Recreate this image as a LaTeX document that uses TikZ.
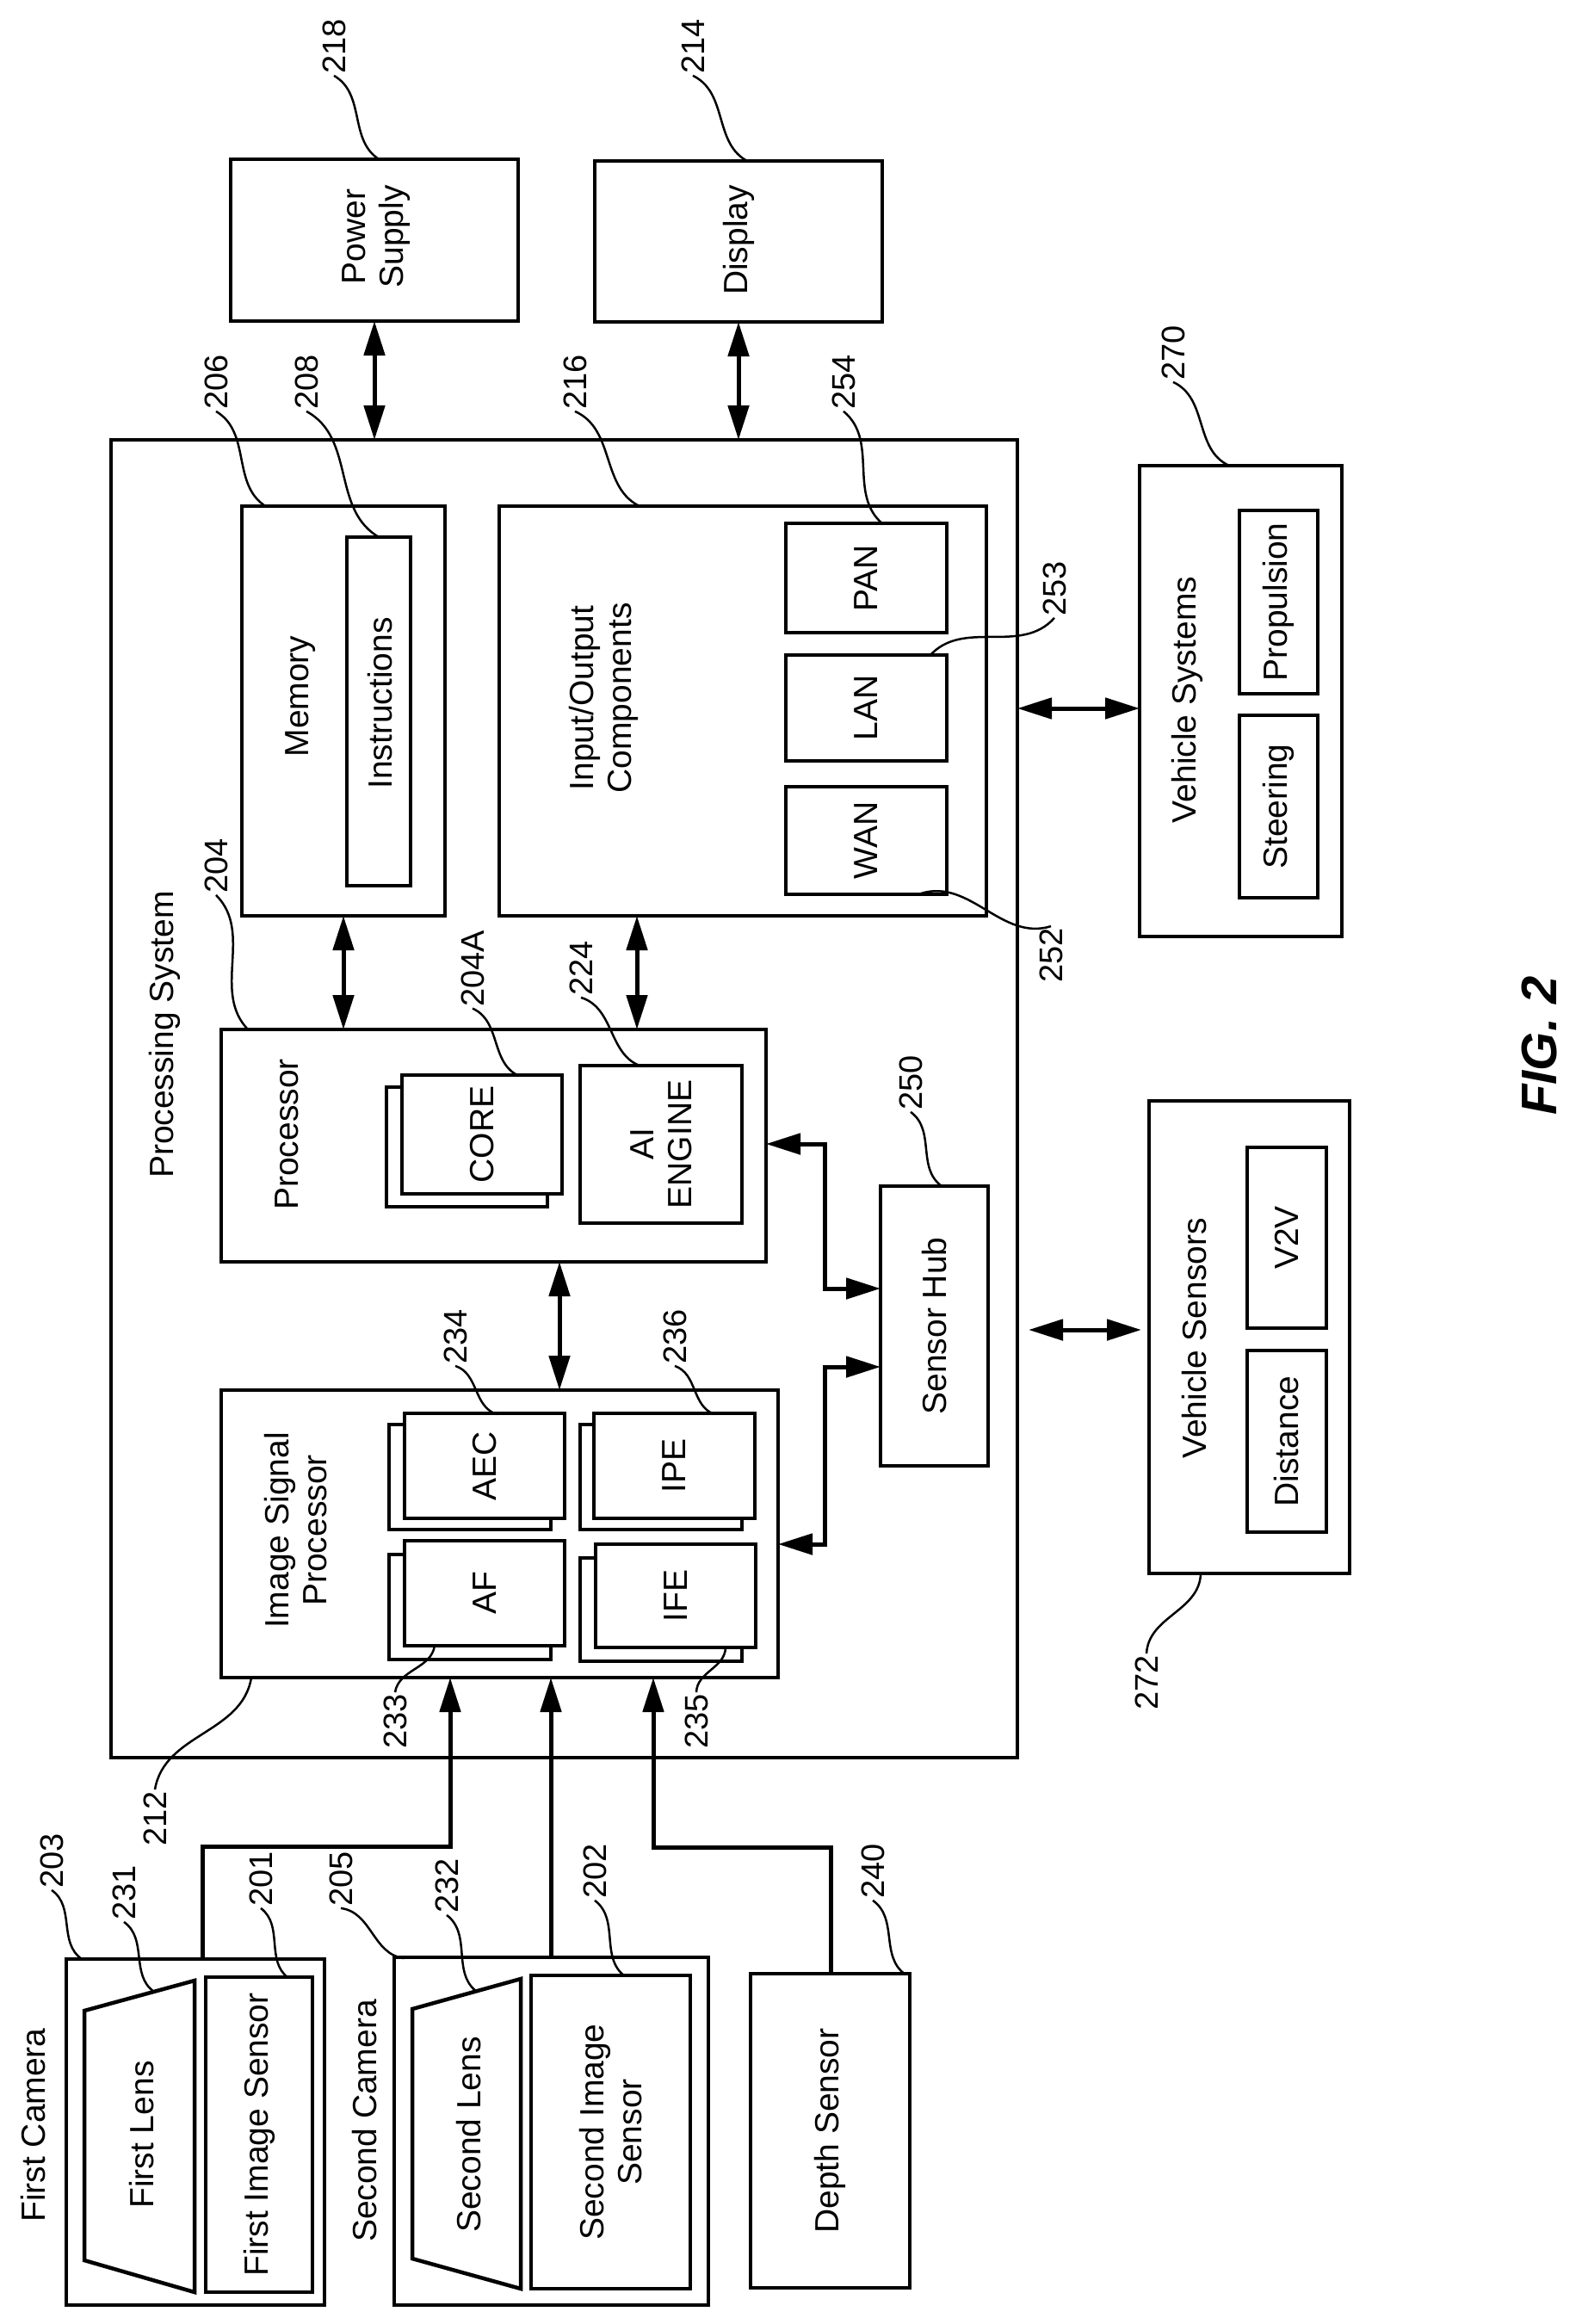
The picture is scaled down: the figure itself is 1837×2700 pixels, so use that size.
\documentclass[tikz,border=0pt]{standalone}
\usepackage{fontspec}
\setmainfont{Liberation Sans}
\usetikzlibrary{arrows.meta,calc}
\begin{document}
\begin{tikzpicture}[x=1pt,y=-1pt,
  box/.style={draw,line width=4.5pt,fill=white,inner sep=0pt,outer sep=0pt},
  txt/.style={rotate=90,font=\fontsize{39}{44}\selectfont,align=center,inner sep=0pt},
  num/.style={rotate=90,font=\fontsize{38}{40}\selectfont,inner sep=2pt},
  lead/.style={line width=2.5pt},
  arr/.style={line width=5pt,-{Triangle[length=40pt,width=24pt]}},
  dbl/.style={line width=5pt,{Triangle[length=40pt,width=24pt]}-{Triangle[length=40pt,width=24pt]}}]
\newcommand\bx[5]{\node[box,minimum width={(#4-#2)*1pt},minimum height={(#5-#3)*1pt}] (#1) at ({(#2+#4)/2},{(#3+#5)/2}) {};}
\newcommand\ld[2]{\draw[lead] (#1) .. controls ($(#1)!0.33!(#2)!0.3!90:(#2)$) and ($(#2)!0.33!(#1)!0.3!90:(#1)$) .. (#2);}
\useasboundingbox (0,0) rectangle (1837,2700);
% boxes
\bx{outer}{129}{511}{1182}{2042}
\bx{psu}{268}{185}{602}{373}
\bx{disp}{691}{187}{1025}{374}
\bx{mem}{281}{588}{517}{1064}
\bx{instr}{403}{624}{477}{1029}
\bx{io}{580}{588}{1146}{1064}
\bx{pan}{913}{608}{1100}{735}
\bx{lan}{913}{761}{1100}{884}
\bx{wan}{913}{914}{1100}{1039}
\bx{proc}{257}{1196}{890}{1466}
\bx{coreb}{449}{1263}{636}{1402}
\bx{core}{467}{1249}{653}{1387}
\bx{ai}{674}{1238}{862}{1421}
\bx{isp}{257}{1615}{904}{1949}
\bx{aecb}{452}{1655}{640}{1777}
\bx{aec}{470}{1642}{656}{1764}
\bx{afb}{452}{1806}{640}{1928}
\bx{af}{470}{1790}{656}{1912}
\bx{ipeb}{674}{1655}{862}{1777}
\bx{ipe}{690}{1642}{877}{1764}
\bx{ifeb}{674}{1810}{862}{1930}
\bx{ife}{692}{1794}{878}{1914}
\bx{hub}{1023}{1378}{1148}{1703}
\bx{vsys}{1324}{541}{1559}{1088}
\bx{prop}{1440}{593}{1531}{806}
\bx{steer}{1440}{831}{1531}{1043}
\bx{vsen}{1335}{1279}{1568}{1828}
\bx{v2v}{1449}{1333}{1541}{1543}
\bx{dist}{1449}{1569}{1541}{1780}
\bx{cam1}{77}{2276}{377}{2678}
\bx{sens1}{239}{2297}{363}{2663}
\bx{cam2}{458}{2274}{823}{2678}
\bx{sens2}{617}{2295}{802}{2659}
\bx{depth}{872}{2293}{1057}{2658}
\draw[box] (98,2336) -- (226,2301) -- (226,2663) -- (98,2626) -- cycle;
\draw[box] (479,2334) -- (605,2299) -- (605,2659) -- (479,2624) -- cycle;
% texts
\node[txt] (tps) at (191,1202) {Processing System};
\node[txt] (tpsu) at (437,275) {Power\\Supply};
\node[txt] (tdisp) at (858,279) {Display};
\node[txt] (tmem) at (349,809) {Memory};
\node[txt] (tinstr) at (442,817) {Instructions};
\node[txt] (tio) at (701,811) {Input/Output\\Components};
\node[txt] (tpan) at (pan) {PAN};
\node[txt] (tlan) at (lan) {LAN};
\node[txt] (twan) at (wan) {WAN};
\node[txt] (tproc) at (333,1318) {Processor};
\node[txt] (tcore) at (core) {CORE};
\node[txt] (tai) at (ai) {AI\\ENGINE};
\node[txt] (tisp) at (344,1778) {Image Signal\\Processor};
\node[txt] (taec) at (aec) {AEC};
\node[txt] (taf) at (af) {AF};
\node[txt] (tipe) at (ipe) {IPE};
\node[txt] (tife) at (ife) {IFE};
\node[txt] (thub) at (hub) {Sensor Hub};
\node[txt] (tvsys) at (1379,813) {Vehicle Systems};
\node[txt] (tprop) at (prop) {Propulsion};
\node[txt] (tsteer) at (steer) {Steering};
\node[txt] (tvsen) at (1388,1555) {Vehicle Sensors};
\node[txt] (tv2v) at (v2v) {V2V};
\node[txt] (tdist) at (dist) {Distance};
\node[txt] (tcam1) at (39,2469) {First Camera};
\node[txt] (tlens1) at (165,2480) {First Lens};
\node[txt] (tsens1) at (sens1) {First Image Sensor};
\node[txt] (tcam2) at (424,2464) {Second Camera};
\node[txt] (tlens2) at (545,2480) {Second Lens};
\node[txt] (tsens2) at (sens2) {Second Image\\Sensor};
\node[txt] (tdepth) at (depth) {Depth Sensor};
\node[rotate=90,font=\fontsize{58}{60}\selectfont\bfseries\itshape] (fig) at (1788,1215) {FIG. 2};
% arrows
\coordinate (x740) at (740,0);
\coordinate (x650) at (650,0);
\draw[dbl] (psu.south) -- (psu.south |- outer.north);
\draw[dbl] (disp.south) -- (disp.south |- outer.north);
\draw[dbl] (mem.south) -- (mem.south |- proc.north);
\draw[dbl] (io.south -| x740) -- (proc.north -| x740);
\draw[dbl] (proc.south -| x650) -- (isp.north -| x650);
\draw[dbl] (outer.east |- 0,823) -- (vsys.west |- 0,823);
\draw[dbl] ([xshift=13pt]outer.east |- 0,1545) -- ([xshift=-9pt]vsen.west |- 0,1545);
\draw[dbl] (proc.east |- 0,1329) -- (958,1329) |- (hub.west |- 0,1497);
\draw[dbl] (isp.east |- 0,1794) -- (958,1794) |- (hub.west |- 0,1588);
\draw[arr] (cam1.north -| 235,0) |- (523,2145) -- (isp.south -| 523,0);
\draw[arr] (cam2.north -| 640,0) -- (isp.south -| 640,0);
\draw[arr] (depth.north -| 965,0) |- (759,2146) -- (isp.south -| 759,0);
% reference numbers
\node[num] (n218) at (388,54) {218};
\node[num] (n214) at (805,54) {214};
\node[num] (n206) at (251,444) {206};
\node[num] (n208) at (356,444) {208};
\node[num] (n216) at (668,444) {216};
\node[num] (n254) at (980,444) {254};
\node[num] (n204) at (251,1006) {204};
\node[num] (n204a) at (549,1125) {204A};
\node[num] (n224) at (675,1125) {224};
\node[num] (n234) at (529,1553) {234};
\node[num] (n236) at (784,1553) {236};
\node[num] (n233) at (459,2000) {233};
\node[num] (n235) at (809,2000) {235};
\node[num] (n212) at (180,2113) {212};
\node[num] (n203) at (60,2162) {203};
\node[num] (n231) at (144,2199) {231};
\node[num] (n201) at (303,2183) {201};
\node[num] (n205) at (396,2183) {205};
\node[num] (n232) at (519,2191) {232};
\node[num] (n202) at (691,2174) {202};
\node[num] (n240) at (1014,2174) {240};
\node[num] (n253) at (1225,684) {253};
\node[num] (n252) at (1221,1110) {252};
\node[num] (n250) at (1058,1258) {250};
\node[num] (n270) at (1363,410) {270};
\node[num] (n272) at (1332,1955) {272};
% leader ends
\coordinate (e218) at (442,186);
\coordinate (e214) at (870,188);
\coordinate (e206) at (310,589);
\coordinate (e208) at (442,625);
\coordinate (e216) at (745,589);
\coordinate (e254) at (1026,609);
\coordinate (e204) at (289,1197);
\coordinate (e204a) at (603,1250);
\coordinate (e224) at (746,1239);
\coordinate (e234) at (577,1643);
\coordinate (e236) at (830,1643);
\coordinate (e233) at (505,1912);
\coordinate (e235) at (843,1914);
\coordinate (e212) at (292,1949);
\coordinate (e203) at (95,2276);
\coordinate (e231) at (179,2314);
\coordinate (e201) at (335,2298);
\coordinate (e205) at (469,2275);
\coordinate (e232) at (554,2314);
\coordinate (e202) at (726,2296);
\coordinate (e240) at (1052,2294);
\coordinate (e253) at (1080,762);
\coordinate (e252) at (1070,1038);
\coordinate (e250) at (1094,1378);
\coordinate (e270) at (1428,541);
\coordinate (e272) at (1395,1829);
\ld{n218.west}{e218}
\ld{n214.west}{e214}
\ld{n206.west}{e206}
\ld{n208.west}{e208}
\ld{n216.west}{e216}
\ld{n254.west}{e254}
\ld{n204.west}{e204}
\ld{n204a.west}{e204a}
\ld{n224.west}{e224}
\ld{n234.west}{e234}
\ld{n236.west}{e236}
\ld{n233.east}{e233}
\ld{n235.east}{e235}
\ld{n212.east}{e212}
\ld{n203.west}{e203}
\ld{n231.west}{e231}
\ld{n201.west}{e201}
\ld{n205.west}{e205}
\ld{n232.west}{e232}
\ld{n202.west}{e202}
\ld{n240.west}{e240}
\ld{n253.west}{e253}
\ld{n252.east}{e252}
\ld{n250.west}{e250}
\ld{n270.west}{e270}
\ld{n272.east}{e272}
\end{tikzpicture}
\end{document}
